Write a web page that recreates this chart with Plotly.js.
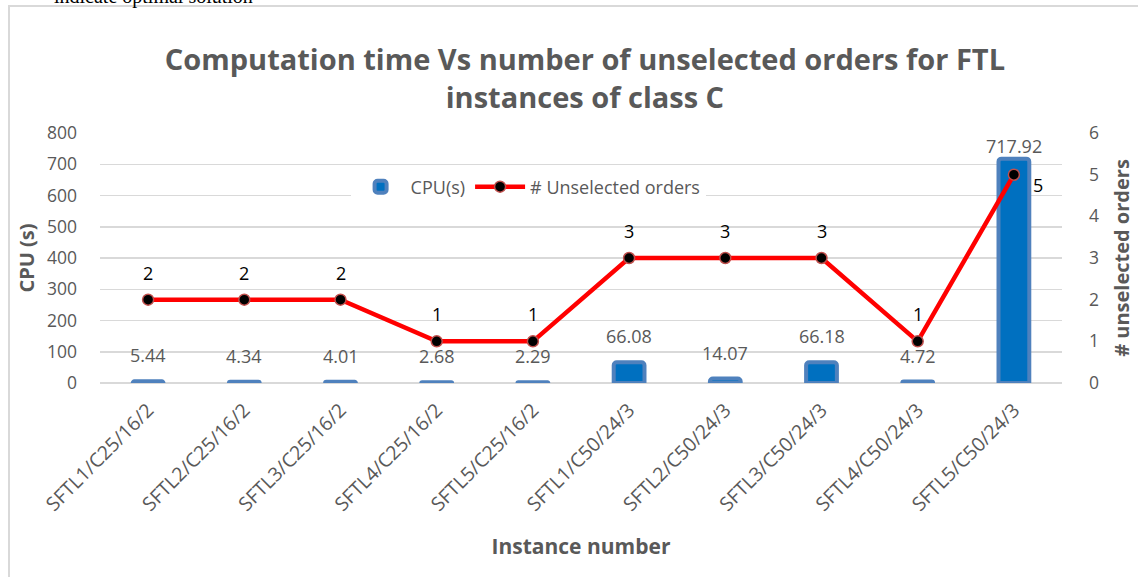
<!DOCTYPE html>
<html>
<head>
<meta charset="utf-8">
<script src="https://cdn.plot.ly/plotly-3.0.1.min.js"></script>
<style>html,body{margin:0;padding:0;background:#fff;}#chart{width:1138px;height:577px;}</style>
</head>
<body>
<div id="chart"></div>
<script>
const instances = ["SFTL1/C25/16/2","SFTL2/C25/16/2","SFTL3/C25/16/2","SFTL4/C25/16/2","SFTL5/C25/16/2",
                   "SFTL1/C50/24/3","SFTL2/C50/24/3","SFTL3/C50/24/3","SFTL4/C50/24/3","SFTL5/C50/24/3"];
const cpuSeconds = [5.44, 4.34, 4.01, 2.68, 2.29, 66.08, 14.07, 66.18, 4.72, 717.92];
const unselectedOrders = [2, 2, 2, 1, 1, 3, 3, 3, 1, 5];
const cpuLabels = ["5.44","4.34","4.01","2.68","2.29","66.08","14.07","66.18","4.72","717.92"];

const FONT = "Open Sans, Liberation Sans, sans-serif";
const GRAY = "#595959";

const traces = [
  {
    type: "bar", name: "CPU(s)", x: instances, y: cpuSeconds, yaxis: "y",
    width: 0.32,
    marker: {color: "#0070C0", line: {color: "#4F81BD", width: 4}, cornerradius: 3},
    hoverinfo: "skip"
  },
  {
    type: "scatter", mode: "lines+markers", name: "# Unselected orders",
    x: instances, y: unselectedOrders, yaxis: "y2",
    line: {color: "#FF0000", width: 4.5},
    marker: {color: "#000000", size: 11, line: {color: "#C0504D", width: 1.5}},
    hoverinfo: "skip"
  }
];

const annotations = [];
instances.forEach((c, i) => {
  annotations.push({x: c, y: cpuSeconds[i], xref: "x", yref: "y", text: cpuLabels[i],
    showarrow: false, yshift: cpuSeconds[i] > 700 ? 13 : 26, font: {family: FONT, size: 18, color: GRAY}});
  const last = i === instances.length - 1;
  annotations.push({x: c, y: unselectedOrders[i], xref: "x", yref: "y2", text: String(unselectedOrders[i]),
    showarrow: false, yshift: last ? -10 : 27, xshift: last ? 24 : 0,
    font: {family: FONT, size: 18, color: "#000000"}});
});
annotations.push({xref: "paper", yref: "paper", x: -0.05, y: 1.545, xanchor: "left", yanchor: "middle",
  text: "indicate optimal solution", showarrow: false,
  font: {family: "Liberation Serif, serif", size: 20, color: "#000"}});

const layout = {
  width: 1138, height: 577,
  margin: {l: 100, r: 76, t: 133, b: 194},
  paper_bgcolor: "#ffffff", plot_bgcolor: "#ffffff",
  showlegend: true,
  legend: {orientation: "h", x: 0.445, y: 0.784, xanchor: "center", yanchor: "middle",
    bgcolor: "#ffffff", font: {family: FONT, size: 18, color: GRAY}, traceorder: "normal",
    itemwidth: 50},
  title: {
    text: "<b>Computation time Vs number of unselected orders for FTL<br>instances of class C</b>",
    x: 0.514, xanchor: "center", y: 0.878, yanchor: "top",
    font: {family: FONT, size: 29, color: GRAY}
  },
  xaxis: {
    type: "category", range: [-0.5, 9.5], tickangle: -45,
    tickfont: {family: FONT, size: 19.5, color: GRAY},
    showgrid: false, showline: false, ticks: "", zeroline: false,
    automargin: false, ticklabelstandoff: 11,
    title: {text: "<b>Instance number</b>", standoff: 23, font: {family: FONT, size: 21, color: GRAY}}
  },
  yaxis: {
    range: [0, 800], dtick: 100, showgrid: true, gridcolor: "#D9D9D9", gridwidth: 1.5,
    zeroline: true, zerolinecolor: "#D9D9D9", zerolinewidth: 1.5, showline: false,
    ticks: "", ticklabelstandoff: 22, automargin: false,
    tickfont: {family: FONT, size: 17.5, color: GRAY},
    title: {text: "<b>CPU (s)</b>", standoff: 6, font: {family: FONT, size: 20, color: GRAY}}
  },
  yaxis2: {
    overlaying: "y", side: "right", range: [0, 6], dtick: 1, showgrid: false, zeroline: false,
    showline: false, ticks: "", ticklabelstandoff: 26, automargin: false,
    tickfont: {family: FONT, size: 17.5, color: GRAY},
    title: {text: "<b># unselected orders</b>", standoff: 16, font: {family: FONT, size: 20, color: GRAY}}
  },
  shapes: [
    {type: "rect", xref: "paper", yref: "paper", x0: -0.0946, x1: 1.1, y0: -1.0, y1: 1.508,
     line: {color: "#D9D9D9", width: 2}, fillcolor: "rgba(0,0,0,0)", layer: "below"}
  ],
  annotations: annotations
};

Plotly.newPlot("chart", traces, layout, {displayModeBar: false, staticPlot: true});
</script>
</body>
</html>
